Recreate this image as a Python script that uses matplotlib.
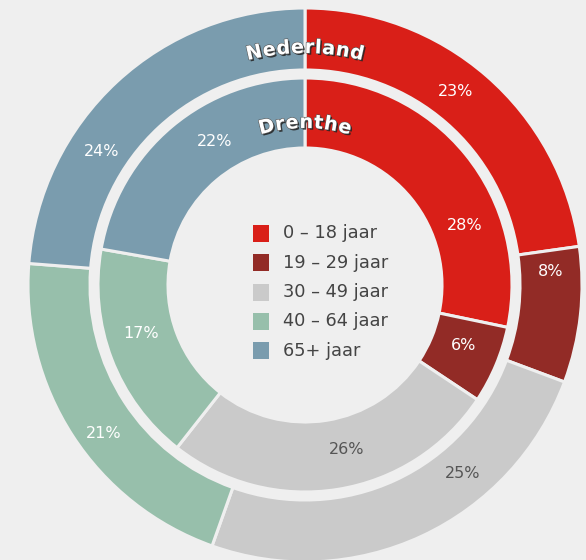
import matplotlib
matplotlib.use("Agg")
import matplotlib.pyplot as plt
import matplotlib.patheffects as pe
from matplotlib.patches import Rectangle
import numpy as np

categories = ["0 – 18 jaar", "19 – 29 jaar", "30 – 49 jaar", "40 – 64 jaar", "65+ jaar"]
nederland = [23, 8, 25, 21, 24]
drenthe = [28, 6, 26, 17, 22]
colors = ["#d91f18", "#922b26", "#cacaca", "#97bfab", "#7a9cae"]
text_colors = ["white", "white", "#555555", "white", "white"]
ring_titles = ["Nederland", "Drenthe"]

# label anchor positions (pixels, y down) as placed in the original chart
outer_label_pos = [(456, 92), (551, 272), (463, 474), (104, 433), (102, 152)]
inner_label_pos = [(465, 225), (464, 345), (347, 449), (141, 334), (215, 142)]

W, H = 586, 560
BG = "#efefef"
plt.rcParams['font.family'] = ['DejaVu Sans']

fig = plt.figure(figsize=(W / 100, H / 100), dpi=100, facecolor=BG)
ax = fig.add_axes([0, 0, 1, 1])
ax.set_facecolor(BG)

cx, cy = 305, H - 285

ax.pie(nederland, radius=277, center=(cx, cy), startangle=90, counterclock=False,
       colors=colors, wedgeprops=dict(width=62, edgecolor=BG, linewidth=2.2))
ax.pie(drenthe, radius=207, center=(cx, cy), startangle=90, counterclock=False,
       colors=colors, wedgeprops=dict(width=70, edgecolor=BG, linewidth=2.2))

for vals, poss in ((nederland, outer_label_pos), (drenthe, inner_label_pos)):
    for v, (px, py), c in zip(vals, poss, text_colors):
        ax.text(px, H - py, f"{v}%", color=c, fontsize=11.5, ha='center', va='center')

ax.set_xlim(0, W)
ax.set_ylim(0, H)
ax.set_aspect('equal')
ax.set_axis_off()

# legend
lx, ly0, dy = 253, 225, 29.3
for i, (cat, col) in enumerate(zip(categories, colors)):
    y = ly0 + i * dy
    ax.add_patch(Rectangle((lx, H - y - 17), 16, 17, facecolor=col, edgecolor='none'))
    ax.text(283, H - y - 8.5, cat, fontsize=12.8, color="#444444", va='center', ha='left')

# curved titles
fig.canvas.draw()
renderer = fig.canvas.get_renderer()
effects = [pe.withSimplePatchShadow(offset=(1.2, -1.2), shadow_rgbFace='#222222', alpha=0.85),
           pe.Stroke(linewidth=0.8, foreground='#555555'), pe.Normal()]

def curved(text, r, size, spacing=0.5):
    widths = []
    for ch in text:
        t = ax.text(0, 0, ch, fontsize=size, fontweight='bold')
        bb = t.get_window_extent(renderer)
        widths.append(bb.width + spacing)
        t.remove()
    total = sum(widths)
    s = -total / 2
    for ch, w in zip(text, widths):
        mid = s + w / 2
        phi = mid / r
        x = cx + r * np.sin(phi)
        y = cy + r * np.cos(phi)
        ax.text(x, y, ch, fontsize=size, fontweight='bold', color='white',
                rotation=-np.degrees(phi), rotation_mode='anchor', ha='center', va='baseline',
                path_effects=effects)
        s += w

curved(ring_titles[0], 232, 13.8)
curved(ring_titles[1], 157, 13.8)

fig.savefig("out.png", dpi=100, facecolor=BG)
